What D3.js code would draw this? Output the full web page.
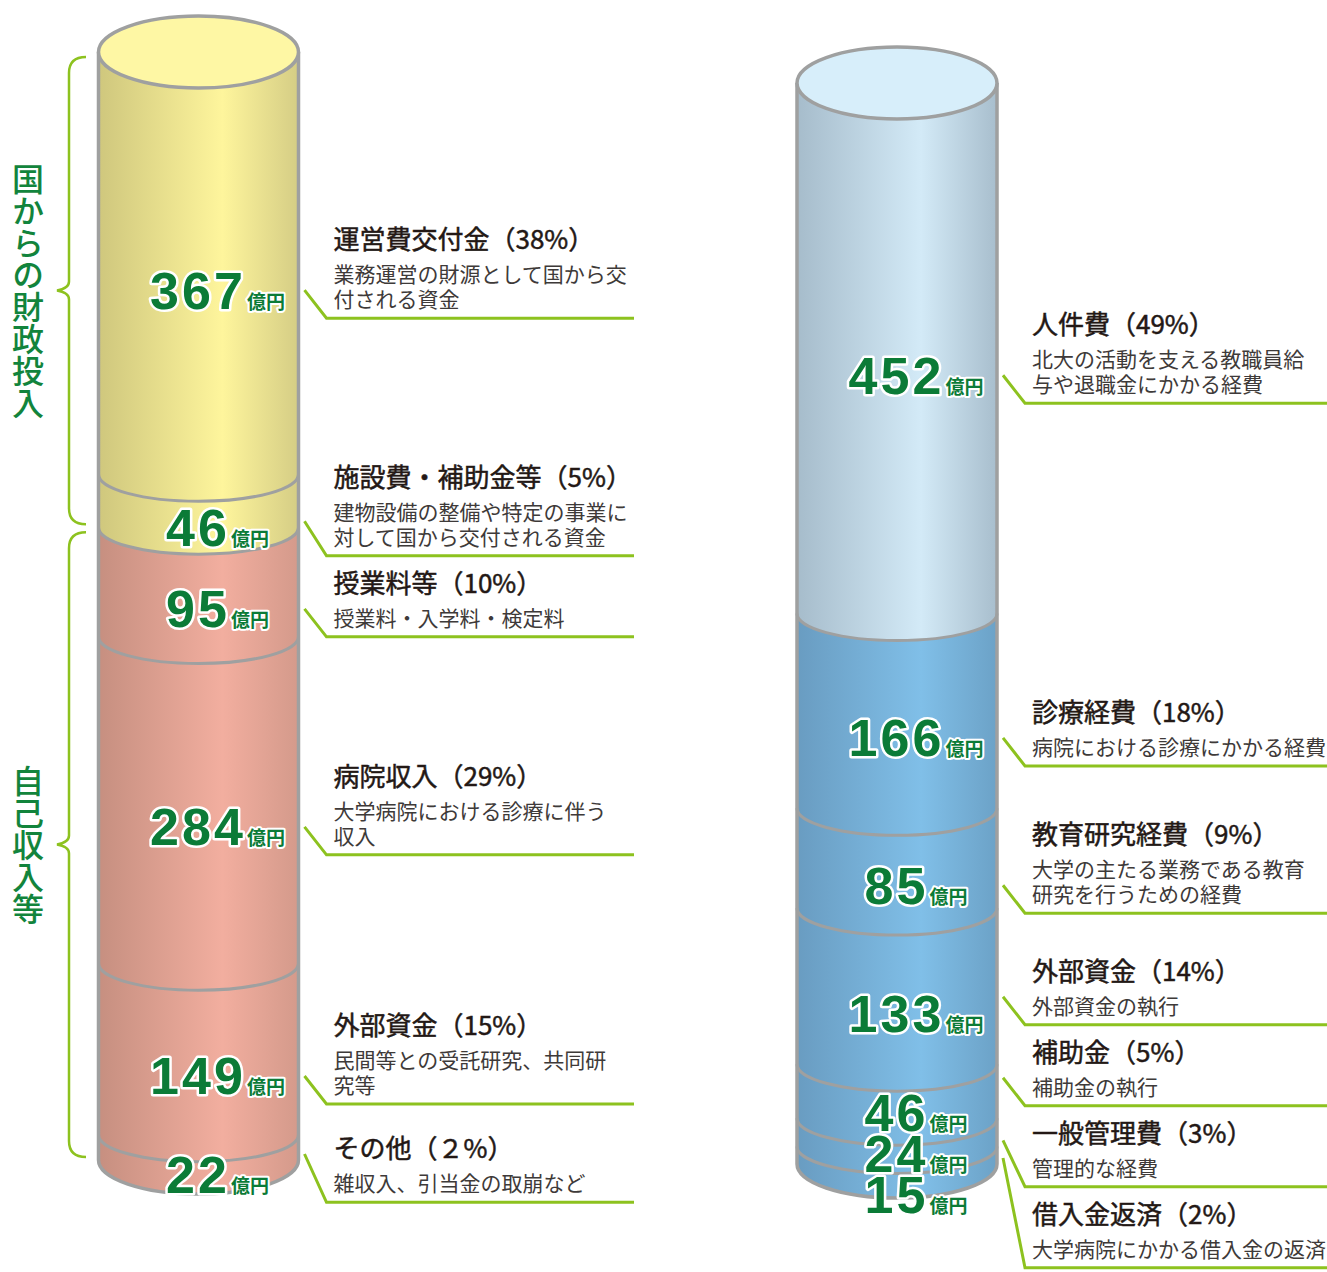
<!DOCTYPE html>
<html lang="ja">
<head>
<meta charset="utf-8">
<script src="https://cdn.jsdelivr.net/npm/d3@7"></script>
<style>
  body { margin: 0; background: #fff; }
  svg { display: block; font-family: "Noto Sans CJK JP", sans-serif; }
</style>
</head>
<body>
<div id="chart"></div>
<script>
// 収入
const incomeNames = ["運営費交付金", "施設費・補助金等", "授業料等", "病院収入", "外部資金", "その他"];
const incomeValues = [367, 46, 95, 284, 149, 22];
const incomeShares = ["38%", "5%", "10%", "29%", "15%", "２%"];
const incomeNotes = [
  ["業務運営の財源として国から交", "付される資金"],
  ["建物設備の整備や特定の事業に", "対して国から交付される資金"],
  ["授業料・入学料・検定料"],
  ["大学病院における診療に伴う", "収入"],
  ["民間等との受託研究、共同研", "究等"],
  ["雑収入、引当金の取崩など"]
];
const incomeGroupNames = ["国からの財政投入", "自己収入等"];
const incomeGroup = [0, 0, 1, 1, 1, 1];

// 支出
const expenseNames = ["人件費", "診療経費", "教育研究経費", "外部資金", "補助金", "一般管理費", "借入金返済"];
const expenseValues = [452, 166, 85, 133, 46, 24, 15];
const expenseShares = ["49%", "18%", "9%", "14%", "5%", "3%", "2%"];
const expenseNotes = [
  ["北大の活動を支える教職員給", "与や退職金にかかる経費"],
  ["病院における診療にかかる経費"],
  ["大学の主たる業務である教育", "研究を行うための経費"],
  ["外部資金の執行"],
  ["補助金の執行"],
  ["管理的な経費"],
  ["大学病院にかかる借入金の返済"]
];

const width = 1327, height = 1272;
const svg = d3.select("#chart")
  .append("svg")
  .attr("width", width)
  .attr("height", height);
const defs = svg.append("defs");

const palettes = {
  yellow: {side: ["#cfc77d", "#fef59c", "#d5cd85"], top: "#fef7a4"},
  red: {side: ["#c68f80", "#f2ae9f", "#d49a8b"], top: "#f4b8aa"},
  sky: {side: ["#a6bccb", "#d3eaf7", "#a8becd"], top: "#d7eefa"},
  blue: {side: ["#699cc1", "#80bfe8", "#6ca2c7"], top: "#8cc6ec"}
};
Object.entries(palettes).forEach(([key, p]) => {
  const lg = defs.append("linearGradient").attr("id", `grad-${key}`)
    .attr("x1", 0).attr("x2", 1).attr("y1", 0).attr("y2", 0);
  [0, 0.62, 1].forEach((o, i) => lg.append("stop").attr("offset", o).attr("stop-color", p.side[i]));
});

const outline = "#9fa0a0";
const leaderColor = "#8dc21f";
const numColor = "#0b7b37";

// isotonic spread: keeps labels in order with minimum gaps, as close as possible to wanted positions
function spread(wanted, gaps) {
  const off = [0];
  for (let i = 1; i < wanted.length; i++) off.push(off[i - 1] + gaps[i]);
  const blocks = [];
  wanted.forEach((w, i) => {
    blocks.push({sum: w - off[i], n: 1});
    while (blocks.length > 1 &&
           blocks[blocks.length - 2].sum / blocks[blocks.length - 2].n > blocks[blocks.length - 1].sum / blocks[blocks.length - 1].n) {
      const b = blocks.pop();
      blocks[blocks.length - 1].sum += b.sum;
      blocks[blocks.length - 1].n += b.n;
    }
  });
  const out = [];
  blocks.forEach(b => { for (let k = 0; k < b.n; k++) out.push(b.sum / b.n + off[out.length]); });
  return out;
}

function drawCylinder(cfg) {
  const {names, values, shares, notes, tones, cx, rx, yRange, noteRight} = cfg;
  const n = values.length;
  const total = d3.sum(values);
  const y = d3.scaleLinear().domain([0, total]).range(yRange);
  const cum = Array.from(d3.cumsum(values));
  const segs = values.map((v, i) => ({i, v, y0: y(i ? cum[i - 1] : 0), y1: y(cum[i])}));
  const x0 = cx - rx, x1 = cx + rx;
  const rTop = 36, rMid = 27, rBot = 34;
  const g = svg.append("g");

  g.selectAll("path.seg")
    .data(segs)
    .join("path")
    .attr("class", "seg")
    .attr("d", d => {
      const rt = d.i === 0 ? rTop : rMid;
      const rb = d.i === n - 1 ? rBot : rMid;
      return `M${x0},${d.y0} A${rx},${rt} 0 0 0 ${x1},${d.y0} L${x1},${d.y1} A${rx},${rb} 0 0 1 ${x0},${d.y1} Z`;
    })
    .attr("fill", d => `url(#grad-${tones[d.i]})`);

  // boundaries between segments
  g.selectAll("path.cut")
    .data(segs.slice(1))
    .join("path")
    .attr("class", "cut")
    .attr("d", d => `M${x0},${d.y0} A${rx},${rMid} 0 0 0 ${x1},${d.y0}`)
    .attr("fill", "none")
    .attr("stroke", outline)
    .attr("stroke-width", 3);

  g.append("path")
    .attr("d", `M${x0},${y(0)} L${x0},${y(total)} A${rx},${rBot} 0 0 0 ${x1},${y(total)} L${x1},${y(0)}`)
    .attr("fill", "none")
    .attr("stroke", outline)
    .attr("stroke-width", 3.5);

  g.append("ellipse")
    .attr("cx", cx).attr("cy", y(0))
    .attr("rx", rx).attr("ry", rTop)
    .attr("fill", palettes[tones[0]].top)
    .attr("stroke", outline)
    .attr("stroke-width", 3.5);

  // value labels
  const face = segs.map(d => (d.y0 + d.y1) / 2 + rMid);
  const numY = spread(face.map(f => f + 18.5), segs.map(() => 41));
  segs.forEach((d, i) => {
    const t = g.append("text")
      .attr("x", cx + 19)
      .attr("y", numY[i])
      .attr("text-anchor", "middle")
      .attr("fill", numColor)
      .attr("stroke", "#fff")
      .attr("stroke-width", 5)
      .attr("stroke-linejoin", "round")
      .attr("paint-order", "stroke");
    t.append("tspan")
      .attr("font-family", "'Liberation Sans', Arial, sans-serif")
      .attr("font-weight", 700)
      .attr("font-size", 52)
      .attr("letter-spacing", 3)
      .text(d.v);
    t.append("tspan")
      .attr("dx", 1)
      .attr("font-weight", 700)
      .attr("font-size", 19)
      .attr("stroke-width", 4)
      .text("億円");
  });

  // notes with leader lines
  const under = spread(face.map(f => f + 28), notes.map(l => 81 + 25 * (l.length - 1)));
  const tx = x1 + 35;
  segs.forEach((d, i) => {
    const u = under[i];
    const lines = notes[i];
    const start = Math.min(u - 28, d.y1 - 6);
    g.append("path")
      .attr("d", d3.line()([[x1 + 6, start], [x1 + 28, u], [noteRight, u]]))
      .attr("fill", "none")
      .attr("stroke", leaderColor)
      .attr("stroke-width", 3);
    const first = u - 11 - 25 * (lines.length - 1);
    g.append("text")
      .attr("x", tx).attr("y", first - 33)
      .attr("font-size", 26)
      .attr("font-weight", 400)
      .attr("fill", "#231815")
      .attr("stroke", "#231815")
      .attr("stroke-width", 0.5)
      .text(`${names[i]}（${shares[i]}）`);
    g.selectAll(null)
      .data(lines)
      .join("text")
      .attr("x", tx)
      .attr("y", (l, k) => first + 25 * k)
      .attr("font-size", 21)
      .attr("fill", "#3e3a39")
      .text(l => l);
  });

  return {y, cum};
}

const left = drawCylinder({
  names: incomeNames, values: incomeValues, shares: incomeShares, notes: incomeNotes,
  tones: incomeGroup.map(k => k === 0 ? "yellow" : "red"),
  cx: 198.5, rx: 100, yRange: [52, 1160], noteRight: 634
});

drawCylinder({
  names: expenseNames, values: expenseValues, shares: expenseShares, notes: expenseNotes,
  tones: expenseValues.map((v, i) => i === 0 ? "sky" : "blue"),
  cx: 897, rx: 100, yRange: [83, 1164], noteRight: width
});

// brackets for the income groups
const bx = 69;
incomeGroupNames.forEach((name, gi) => {
  const idx = incomeGroup.map((k, i) => k === gi ? i : -1).filter(i => i >= 0);
  const first = idx[0], last = idx[idx.length - 1];
  const ya = left.y(first ? left.cum[first - 1] : 0) + 5;
  const yb = left.y(left.cum[last]) - 3;
  const ym = (ya + yb) / 2;
  svg.append("path")
    .attr("d", `M86,${ya} Q${bx},${ya} ${bx},${ya + 16} L${bx},${ym - 9} Q${bx},${ym - 2} 57,${ym} Q${bx},${ym + 2} ${bx},${ym + 9} L${bx},${yb - 16} Q${bx},${yb} 86,${yb}`)
    .attr("fill", "none")
    .attr("stroke", leaderColor)
    .attr("stroke-width", 2.5);
  svg.append("text")
    .attr("x", 28).attr("y", ym)
    .attr("text-anchor", "middle")
    .style("writing-mode", "vertical-rl")
    .attr("font-size", 32)
    .attr("font-weight", 500)
    .attr("fill", "#12843c")
    .text(name);
});
</script>
</body>
</html>
